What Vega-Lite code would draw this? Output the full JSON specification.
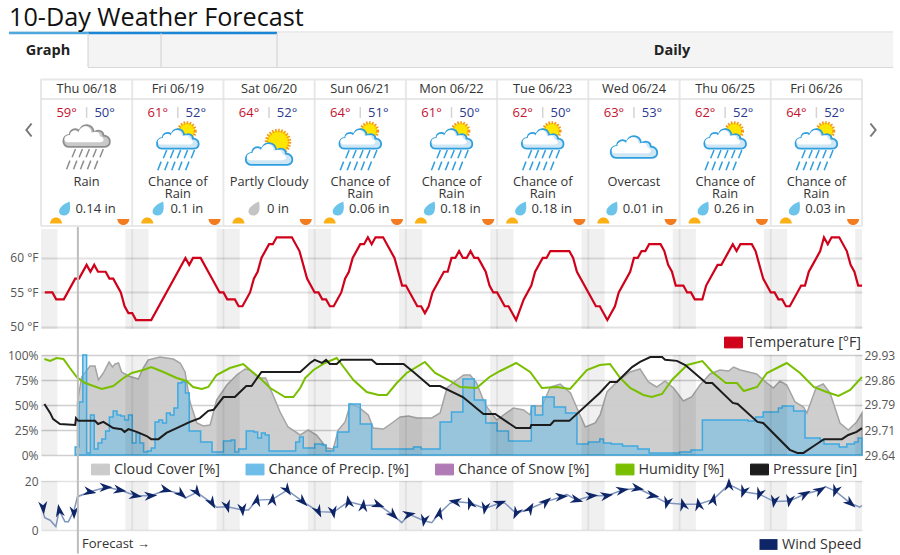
{
"$schema":"https://vega.github.io/schema/vega-lite/v6.json",
"background":"white",
"padding":{"left":7,"top":0,"right":0,"bottom":0},
"bounds":"flush",
"spacing":26,
"resolve":{"scale":{"color":"independent"}},
"config":{"view":{"stroke":null},"font":"Open Sans","axisX":{"disable":true},"axisY":{"domain":false,"ticks":false,"title":null,"labelColor":"#555","labelFontSize":12,"labelPadding":3,"gridColor":"#e2e2e2","gridWidth":2},"legend":{"title":null,"labelFontSize":14.3,"labelColor":"#333","labelOffset":4,"symbolType":"M-1,-0.6H1V0.6H-1Z","symbolSize":324,"symbolStrokeWidth":1,"symbolOpacity":1}},
"datasets":{
"days":[
{"h":12,"dow":"Thu 06/18","hi":"59°","lo":"50°","cond":"Rain","cond2":"","precip":"0.14 in","icon":"rain"},
{"h":36,"dow":"Fri 06/19","hi":"61°","lo":"52°","cond":"Chance of","cond2":"Rain","precip":"0.1 in","icon":"chance"},
{"h":60,"dow":"Sat 06/20","hi":"64°","lo":"52°","cond":"Partly Cloudy","cond2":"","precip":"0 in","icon":"partly"},
{"h":84,"dow":"Sun 06/21","hi":"64°","lo":"51°","cond":"Chance of","cond2":"Rain","precip":"0.06 in","icon":"chance"},
{"h":108,"dow":"Mon 06/22","hi":"61°","lo":"50°","cond":"Chance of","cond2":"Rain","precip":"0.18 in","icon":"chance"},
{"h":132,"dow":"Tue 06/23","hi":"62°","lo":"50°","cond":"Chance of","cond2":"Rain","precip":"0.18 in","icon":"chance"},
{"h":156,"dow":"Wed 06/24","hi":"63°","lo":"53°","cond":"Overcast","cond2":"","precip":"0.01 in","icon":"overcast"},
{"h":180,"dow":"Thu 06/25","hi":"62°","lo":"52°","cond":"Chance of","cond2":"Rain","precip":"0.26 in","icon":"chance"},
{"h":204,"dow":"Fri 06/26","hi":"64°","lo":"52°","cond":"Chance of","cond2":"Rain","precip":"0.03 in","icon":"chance"}],
"night":[{"s":0,"e":4.3},{"s":22.2,"e":28.3},{"s":46.2,"e":52.3},{"s":70.2,"e":76.3},{"s":94.2,"e":100.3},{"s":118.2,"e":124.3},{"s":142.2,"e":148.3},{"s":166.2,"e":172.3},{"s":190.2,"e":196.3},{"s":214.2,"e":216}],
"midnight":[{"h":24},{"h":48},{"h":72},{"h":96},{"h":120},{"h":144},{"h":168},{"h":192}],
"temp":[[1,55],[3,55],[4,54],[6,54],[9,57],[10,57],[12,59],[13,58],[14,59],[15,58],[17,58],[18,57],[19,57],[21,55],[22,53],[23,52],[24,52],[25,51],[29,51],[38,60],[39,59],[40,60],[42,60],[47,55],[48,55],[49,54],[51,54],[52,53],[53,53],[55,55],[56,57],[57,58],[58,60],[60,62],[61,62],[62,63],[66,63],[68,61],[70,57],[72,55],[73,55],[74,54],[75,54],[76,53],[77,53],[79,55],[80,57],[81,58],[82,60],[84,62],[85,62],[86,63],[87,62],[88,63],[90,63],[93,60],[95,56],[96,56],[99,53],[100,53],[101,52],[102,53],[103,55],[106,58],[107,58],[108,60],[109,60],[110,61],[111,60],[112,60],[113,61],[114,60],[115,60],[117,58],[118,56],[119,55],[120,55],[122,53],[123,53],[125,51],[127,54],[129,56],[130,58],[132,60],[133,60],[134,61],[139,61],[140,60],[141,58],[146,53],[147,53],[149,51],[151,53],[152,55],[155,58],[156,60],[157,60],[158,61],[159,61],[160,62],[163,62],[164,61],[165,59],[166,58],[167,56],[169,56],[170,55],[171,55],[172,54],[174,54],[175,56],[178,59],[179,59],[182,62],[183,61],[184,62],[187,62],[188,61],[190,57],[192,55],[193,55],[194,54],[195,54],[196,53],[197,53],[200,56],[201,56],[202,58],[203,59],[205,61],[206,63],[207,62],[208,63],[210,63],[212,61],[213,59],[214,58],[215,56],[216,56]]
},
"vconcat":[
{"width":821,"height":203,
 "encoding":{"x":{"field":"h","type":"quantitative","scale":{"domain":[0,216],"nice":false,"zero":false}}},
 "layer":[
 {"data":{"values":[{"a":12.37,"b":224.2}]},"mark":{"type":"rect","fill":"#f4f4f4"},"encoding":{"x":{"field":"a","type":"quantitative"},"x2":{"field":"b"},"y":{"datum":33,"type":"quantitative","scale":{"domain":[203,0],"nice":false,"zero":false},"axis":null},"y2":{"datum":67}}},
 {"data":{"values":[{"a":-8.42,"b":224.2}]},"mark":{"type":"rule","stroke":"#d8d8d8","strokeWidth":1},"encoding":{"x":{"field":"a","type":"quantitative"},"x2":{"field":"b"},"y":{"datum":32}}},
 {"data":{"values":[{"a":12.37,"b":224.2}]},"mark":{"type":"rule","stroke":"#d8d8d8","strokeWidth":1},"encoding":{"x":{"field":"a","type":"quantitative"},"x2":{"field":"b"},"y":{"datum":67.5}}},
 {"data":{"values":[{"a":-8.42,"b":12.4}]},"mark":{"type":"rule","stroke":"#4ea7dd","strokeWidth":2.5},"encoding":{"x":{"field":"a","type":"quantitative"},"x2":{"field":"b"},"y":{"datum":33}}},
 {"data":{"values":[{"a":12.4,"b":62.1}]},"mark":{"type":"rule","stroke":"#1a86d6","strokeWidth":2.5},"encoding":{"x":{"field":"a","type":"quantitative"},"x2":{"field":"b"},"y":{"datum":33}}},
 {"data":{"values":[{"h":12.37},{"h":31.58},{"h":62.1}]},"mark":{"type":"rule","stroke":"#cfcfcf","strokeWidth":1},"encoding":{"y":{"datum":33},"y2":{"datum":67}}},
 {"data":{"values":[{"h":-8.42,"t":"10-Day Weather Forecast"}]},"mark":{"type":"text","align":"left","baseline":"alphabetic","fontSize":25.2,"color":"#111"},"encoding":{"y":{"datum":26},"text":{"field":"t"}}},
 {"data":{"values":[{"h":1.84,"t":"Graph"},{"h":166,"t":"Daily"}]},"mark":{"type":"text","fontSize":14.5,"fontWeight":"bold","color":"#222","baseline":"middle"},"encoding":{"y":{"datum":50.5},"text":{"field":"t"}}},
 {"data":{"values":[{"h":0},{"h":24},{"h":48},{"h":72},{"h":96},{"h":120},{"h":144},{"h":168},{"h":192},{"h":216}]},"mark":{"type":"rule","stroke":"#e8e8e8","strokeWidth":2},"encoding":{"y":{"datum":79},"y2":{"datum":226}}},
 {"data":{"values":[{"a":0,"b":216}]},"mark":{"type":"rule","stroke":"#e8e8e8","strokeWidth":2},"encoding":{"x":{"field":"a","type":"quantitative"},"x2":{"field":"b"},"y":{"datum":79.5}}},
 {"data":{"values":[{"a":0,"b":216}]},"mark":{"type":"rule","stroke":"#e0e0e0","strokeWidth":1.5},"encoding":{"x":{"field":"a","type":"quantitative"},"x2":{"field":"b"},"y":{"datum":99}}},
 {"data":{"values":[{"a":0,"b":216}]},"mark":{"type":"rule","stroke":"#e8e8e8","strokeWidth":2},"encoding":{"x":{"field":"a","type":"quantitative"},"x2":{"field":"b"},"y":{"datum":226}}},
 {"data":{"values":[{"h":-3.16}]},"mark":{"type":"point","shape":"M0.4,-1L-0.4,0L0.4,1","filled":false,"stroke":"#777","strokeWidth":2,"size":169,"opacity":1},"encoding":{"y":{"datum":130}}},
 {"data":{"values":[{"h":218.9}]},"mark":{"type":"point","shape":"M-0.4,-1L0.4,0L-0.4,1","filled":false,"stroke":"#777","strokeWidth":2,"size":169,"opacity":1},"encoding":{"y":{"datum":130}}},
 {"data":{"name":"days"},"mark":{"type":"text","fontSize":12.8,"color":"#333","baseline":"middle"},"encoding":{"y":{"datum":88.5},"text":{"field":"dow"}}},
 {"data":{"name":"days"},"mark":{"type":"text","fontSize":13,"color":"#c4122f","baseline":"middle","dx":-20},"encoding":{"y":{"datum":113},"text":{"field":"hi"}}},
 {"data":{"name":"days"},"mark":{"type":"text","fontSize":13,"color":"#2b3990","baseline":"middle","dx":18},"encoding":{"y":{"datum":113},"text":{"field":"lo"}}},
 {"data":{"name":"days"},"mark":{"type":"rule","stroke":"#d4d4d4","strokeWidth":1.5},"encoding":{"y":{"datum":107},"y2":{"datum":118}}},
 {"data":{"name":"days"},"transform":[{"filter":"datum.icon=='partly'"}],"mark":{"type":"point","shape":"circle","filled":true,"fill":"#ffe600","stroke":"#f7941d","strokeWidth":3.5,"strokeDash":[1.5,1.5],"size":530,"opacity":1,"xOffset":9},"encoding":{"y":{"datum":142}}},
 {"data":{"name":"days"},"transform":[{"filter":"datum.icon=='chance'"}],"mark":{"type":"point","shape":"circle","filled":true,"fill":"#ffe600","stroke":"#f7941d","strokeWidth":3,"strokeDash":[1.5,1.5],"size":280,"opacity":1,"xOffset":9},"encoding":{"y":{"datum":131}}},
 {"data":{"name":"days"},"transform":[{"filter":"datum.icon=='chance'"}],"mark":{"type":"point","shape":"M-0.75,0.45C-1.05,0.45 -1.05,-0.05 -0.7,-0.05C-0.7,-0.3 -0.4,-0.35 -0.3,-0.2C-0.2,-0.55 0.25,-0.55 0.3,-0.15C0.5,-0.3 0.7,-0.2 0.7,-0.02C1.05,0 1.05,0.45 0.75,0.45Z","filled":true,"fill":"#cfe6f5","stroke":"#2f9fdf","strokeWidth":1.8,"size":1849,"opacity":1},"encoding":{"y":{"datum":139}}},
 {"data":{"name":"days"},"transform":[{"filter":"datum.icon=='partly'||datum.icon=='overcast'"},{"calculate":"datum.icon=='partly'?154:147","as":"cy"}],"mark":{"type":"point","shape":"M-0.75,0.45C-1.05,0.45 -1.05,-0.05 -0.7,-0.05C-0.7,-0.3 -0.4,-0.35 -0.3,-0.2C-0.2,-0.55 0.25,-0.55 0.3,-0.15C0.5,-0.3 0.7,-0.2 0.7,-0.02C1.05,0 1.05,0.45 0.75,0.45Z","filled":true,"fill":"#cfe6f5","stroke":"#2f9fdf","strokeWidth":1.8,"size":2304,"opacity":1},"encoding":{"y":{"field":"cy","type":"quantitative"}}},
 {"data":{"name":"days"},"transform":[{"filter":"datum.icon=='rain'"}],"mark":{"type":"point","shape":"M-0.75,0.45C-1.05,0.45 -1.05,-0.05 -0.7,-0.05C-0.7,-0.3 -0.4,-0.35 -0.3,-0.2C-0.2,-0.55 0.25,-0.55 0.3,-0.15C0.5,-0.3 0.7,-0.2 0.7,-0.02C1.05,0 1.05,0.45 0.75,0.45Z","filled":true,"fill":"#c9c9c9","stroke":"#8e8e8e","strokeWidth":1.8,"size":2304,"opacity":1},"encoding":{"y":{"datum":136}}},
 {"data":{"name":"days"},"transform":[{"filter":"datum.icon=='rain'"}],"mark":{"type":"point","shape":"M-0.72,0.3C-0.95,0.3 -0.95,0 -0.65,0C-0.65,-0.2 -0.38,-0.25 -0.3,-0.1C-0.2,-0.45 0.2,-0.45 0.25,-0.08C0.42,-0.2 0.6,-0.1 0.6,0.05C0.8,0.1 0.8,0.3 0.6,0.3Z","filled":true,"fill":"white","size":2304,"opacity":1,"strokeWidth":0,"xOffset":-1,"yOffset":-1},"encoding":{"y":{"datum":136}}},
 {"data":{"name":"days"},"transform":[{"filter":"datum.icon=='chance'"}],"mark":{"type":"point","shape":"M-0.72,0.3C-0.95,0.3 -0.95,0 -0.65,0C-0.65,-0.2 -0.38,-0.25 -0.3,-0.1C-0.2,-0.45 0.2,-0.45 0.25,-0.08C0.42,-0.2 0.6,-0.1 0.6,0.05C0.8,0.1 0.8,0.3 0.6,0.3Z","filled":true,"fill":"white","size":1849,"opacity":1,"strokeWidth":0,"xOffset":-1,"yOffset":-1},"encoding":{"y":{"datum":139}}},
 {"data":{"name":"days"},"transform":[{"filter":"datum.icon=='partly'||datum.icon=='overcast'"},{"calculate":"datum.icon=='partly'?154:147","as":"cy"}],"mark":{"type":"point","shape":"M-0.72,0.3C-0.95,0.3 -0.95,0 -0.65,0C-0.65,-0.2 -0.38,-0.25 -0.3,-0.1C-0.2,-0.45 0.2,-0.45 0.25,-0.08C0.42,-0.2 0.6,-0.1 0.6,0.05C0.8,0.1 0.8,0.3 0.6,0.3Z","filled":true,"fill":"white","size":2304,"opacity":1,"strokeWidth":0,"xOffset":-1,"yOffset":-1},"encoding":{"y":{"field":"cy","type":"quantitative"}}},
 {"data":{"name":"days"},"transform":[{"filter":"datum.icon=='chance'"}],"mark":{"type":"point","shape":"M-0.4,-0.38L-0.52,-0.08M-0.15,-0.38L-0.27,-0.08M0.1,-0.38L-0.02,-0.08M0.35,-0.38L0.23,-0.08M0.6,-0.38L0.48,-0.08M-0.6,0.04L-0.72,0.35M-0.35,0.04L-0.47,0.35M-0.1,0.04L-0.22,0.35M0.15,0.04L0.03,0.35M0.4,0.04L0.28,0.35","filled":false,"stroke":"#2f9fdf","strokeWidth":1.5,"size":3100,"opacity":1},"encoding":{"y":{"datum":160.5}}},
 {"data":{"name":"days"},"transform":[{"filter":"datum.icon=='rain'"}],"mark":{"type":"point","shape":"M-0.4,-0.38L-0.52,-0.08M-0.15,-0.38L-0.27,-0.08M0.1,-0.38L-0.02,-0.08M0.35,-0.38L0.23,-0.08M0.6,-0.38L0.48,-0.08M-0.6,0.04L-0.72,0.35M-0.35,0.04L-0.47,0.35M-0.1,0.04L-0.22,0.35M0.15,0.04L0.03,0.35M0.4,0.04L0.28,0.35","filled":false,"stroke":"#8e8e8e","strokeWidth":1.5,"size":3100,"opacity":1},"encoding":{"y":{"datum":159.5}}},
 {"data":{"name":"days"},"mark":{"type":"text","fontSize":12.8,"color":"#333","baseline":"alphabetic"},"encoding":{"y":{"datum":185.5},"text":{"field":"cond"}}},
 {"data":{"name":"days"},"mark":{"type":"text","fontSize":12.8,"color":"#333","baseline":"alphabetic"},"encoding":{"y":{"datum":198},"text":{"field":"cond2"}}},
 {"data":{"name":"days"},"transform":[{"calculate":"datum.h-1.5-0.61*length(datum.precip)","as":"dh"},{"filter":"datum.precip!='0 in'"}],"mark":{"type":"point","shape":"M0.7,-1C0.9,0 0.8,1 -0.1,1C-0.8,1 -1,0.4 -0.6,-0.1C-0.3,-0.5 0.2,-0.8 0.7,-1Z","filled":true,"fill":"#6cc4ea","size":196,"opacity":1,"strokeWidth":0},"encoding":{"x":{"field":"dh","type":"quantitative"},"y":{"datum":208.5}}},
 {"data":{"name":"days"},"transform":[{"calculate":"datum.h-1.5-0.61*length(datum.precip)","as":"dh"},{"filter":"datum.precip=='0 in'"}],"mark":{"type":"point","shape":"M0.7,-1C0.9,0 0.8,1 -0.1,1C-0.8,1 -1,0.4 -0.6,-0.1C-0.3,-0.5 0.2,-0.8 0.7,-1Z","filled":true,"fill":"#c4c4c4","size":196,"opacity":1,"strokeWidth":0},"encoding":{"x":{"field":"dh","type":"quantitative"},"y":{"datum":208.5}}},
 {"data":{"name":"days"},"mark":{"type":"text","fontSize":13,"color":"#333","baseline":"middle","dx":9},"encoding":{"y":{"datum":208.5},"text":{"field":"precip"}}},
 {"data":{"name":"days"},"mark":{"type":"point","shape":"M-1,0A1,1 0 0 1 1,0Z","filled":true,"fill":"#fbb116","size":144,"opacity":1,"strokeWidth":0,"xOffset":-30.6},"encoding":{"y":{"datum":223.5}}},
 {"data":{"name":"days"},"mark":{"type":"point","shape":"M-1,0A1,1 0 0 0 1,0Z","filled":true,"fill":"#f47c20","size":144,"opacity":1,"strokeWidth":0,"xOffset":36.7},"encoding":{"y":{"datum":219}}}
 ]},
{"width":821,"height":100,
 "data":{"name":"temp"},
 "transform":[{"calculate":"datum[0]","as":"h"},{"calculate":"datum[1]","as":"t"}],
 "encoding":{"x":{"field":"h","type":"quantitative","scale":{"domain":[0,216],"nice":false,"zero":false}}},
 "layer":[
 {"data":{"name":"night"},"transform":[],"mark":{"type":"rect","fill":"#000","fillOpacity":0.06},"encoding":{"x":{"field":"s","type":"quantitative"},"x2":{"field":"e"}}},
 {"data":{"name":"midnight"},"transform":[],"mark":{"type":"rule","stroke":"#000","strokeOpacity":0.06,"strokeWidth":2},"encoding":{}},
 {"mark":{"type":"line","strokeWidth":2.2,"interpolate":"linear"},"encoding":{"y":{"field":"t","type":"quantitative","scale":{"domain":[49.7,64.2],"nice":false,"zero":false},"axis":{"values":[50,55,60],"grid":true,"labelExpr":"datum.value+' °F'"}},"color":{"datum":"Temperature [°F]","type":"nominal","scale":{"domain":["Temperature [°F]"],"range":["#d0021b"]},"legend":{"orient":"none","legendX":683,"legendY":104,"symbolFillColor":"#d0021b"}}}},
 {"data":{"values":[{"h":9.7}]},"transform":[],"mark":{"type":"rule","stroke":"#bdbdbd","strokeWidth":2},"encoding":{"y":{"datum":64.5},"y2":{"datum":45.9}}}
 ]},
{"width":821,"height":100,
 "encoding":{"x":{"field":"h","type":"quantitative","scale":{"domain":[0,216],"nice":false,"zero":false}}},
 "resolve":{"scale":{"y":"independent"}},
 "layer":[
  {"data":{"values":[{"h":9.6,"v":53},{"h":10.7,"v":78},{"h":12.9,"v":89},{"h":14.2,"v":89},{"h":15.1,"v":75},{"h":16.4,"v":82},{"h":17.9,"v":93},{"h":18.8,"v":88},{"h":19.5,"v":91},{"h":20.4,"v":92},{"h":21.2,"v":83},{"h":23,"v":79},{"h":25.6,"v":76},{"h":26.9,"v":87},{"h":28.2,"v":95},{"h":31.3,"v":98},{"h":34.8,"v":96},{"h":36.6,"v":92},{"h":37.9,"v":83},{"h":39.2,"v":53},{"h":41,"v":32},{"h":42.7,"v":29},{"h":44.5,"v":30},{"h":46.2,"v":55},{"h":48.9,"v":70},{"h":51.5,"v":80},{"h":53.7,"v":86},{"h":55,"v":85},{"h":57.2,"v":77},{"h":59.1,"v":77},{"h":60.7,"v":63},{"h":62.9,"v":43},{"h":65,"v":28},{"h":68.2,"v":20},{"h":70.3,"v":25},{"h":72.5,"v":20},{"h":75.2,"v":7},{"h":76.9,"v":6},{"h":78.2,"v":25},{"h":80,"v":33},{"h":81.4,"v":51},{"h":83.5,"v":48},{"h":86.1,"v":40},{"h":87.4,"v":27},{"h":90.1,"v":26},{"h":92.7,"v":33},{"h":94.5,"v":38},{"h":96.7,"v":39},{"h":98.9,"v":37},{"h":102.8,"v":37},{"h":105,"v":42},{"h":106.8,"v":67},{"h":109.4,"v":75},{"h":111.2,"v":80},{"h":112.9,"v":80},{"h":114.6,"v":72},{"h":116.9,"v":50},{"h":119.9,"v":35},{"h":121.7,"v":40},{"h":124.3,"v":47},{"h":127,"v":45},{"h":128.7,"v":40},{"h":129.1,"v":49},{"h":131.8,"v":49},{"h":134,"v":68},{"h":136.6,"v":71},{"h":139.3,"v":62},{"h":141,"v":47},{"h":143.2,"v":28},{"h":145.8,"v":32},{"h":147.1,"v":40},{"h":148.9,"v":63},{"h":151.5,"v":73},{"h":155,"v":83},{"h":157.6,"v":86},{"h":159.8,"v":73},{"h":162,"v":68},{"h":164.2,"v":74},{"h":166.4,"v":67},{"h":169,"v":54},{"h":171.2,"v":58},{"h":173.4,"v":70},{"h":176,"v":81},{"h":178.6,"v":85},{"h":180.9,"v":84},{"h":182.2,"v":88},{"h":184,"v":85},{"h":188.3,"v":81},{"h":190,"v":75},{"h":192.7,"v":67},{"h":194.4,"v":74},{"h":196.2,"v":70},{"h":198.4,"v":53},{"h":200.6,"v":48},{"h":201.5,"v":42},{"h":204,"v":68},{"h":205.8,"v":71},{"h":207.6,"v":62},{"h":210.2,"v":32},{"h":212.4,"v":25},{"h":214.6,"v":33},{"h":216,"v":42}]},
   "mark":{"type":"area","stroke":"#a4a4a4","strokeWidth":1.5,"fillOpacity":0.95,"opacity":1},
   "encoding":{"y":{"field":"v","type":"quantitative","scale":{"domain":[0,100],"nice":false},"axis":{"values":[0,25,50,75,100],"grid":true,"gridWidth":1.5,"gridColor":"#cfcfcf","labelExpr":"datum.value+'%'"}},
   "color":{"datum":"Cloud Cover [%]","type":"nominal","scale":{"domain":["Cloud Cover [%]","Chance of Precip. [%]","Chance of Snow [%]","Humidity [%]","Pressure [in]"],"range":["#cbcbcb","#6cbde8","#b07ab5","#79bf00","#1c1c1c"]},"legend":{"orient":"none","legendX":50,"legendY":105,"direction":"horizontal","columns":5,"gridAlign":"none","columnPadding":23.5}}}},
  {"data":{"values":[{"h":9,"v":8},{"h":10,"v":53},{"h":11,"v":100},{"h":12,"v":2},{"h":13,"v":40},{"h":14,"v":6},{"h":15,"v":12},{"h":16,"v":16},{"h":17,"v":24},{"h":18,"v":38},{"h":19,"v":44},{"h":20,"v":40},{"h":21,"v":39},{"h":22,"v":35},{"h":23,"v":40},{"h":24,"v":12},{"h":25,"v":22},{"h":26,"v":12},{"h":27,"v":3},{"h":28,"v":4},{"h":29,"v":7},{"h":30,"v":33},{"h":31,"v":35},{"h":32,"v":32},{"h":33,"v":42},{"h":34,"v":40},{"h":35,"v":47},{"h":36,"v":72},{"h":37,"v":73},{"h":38,"v":62},{"h":39,"v":24},{"h":42,"v":13},{"h":45,"v":3},{"h":48,"v":14},{"h":50,"v":15},{"h":51,"v":3},{"h":52,"v":6},{"h":54,"v":24},{"h":56,"v":23},{"h":57,"v":17},{"h":58,"v":22},{"h":59,"v":20},{"h":60,"v":4},{"h":65,"v":4},{"h":67,"v":13},{"h":68,"v":18},{"h":69,"v":7},{"h":72,"v":11},{"h":74,"v":10},{"h":75,"v":4},{"h":77,"v":8},{"h":78,"v":23},{"h":81,"v":51},{"h":84,"v":31},{"h":87,"v":6},{"h":98,"v":8},{"h":100,"v":6},{"h":105,"v":33},{"h":108,"v":43},{"h":111,"v":76},{"h":114,"v":55},{"h":117,"v":32},{"h":120,"v":24},{"h":123,"v":14},{"h":129,"v":49},{"h":130,"v":40},{"h":132,"v":58},{"h":135,"v":48},{"h":138,"v":42},{"h":141,"v":11},{"h":144,"v":13},{"h":147,"v":16},{"h":148,"v":12},{"h":150,"v":11},{"h":153,"v":9},{"h":157,"v":6},{"h":160,"v":2},{"h":168,"v":3},{"h":171,"v":5},{"h":174,"v":35},{"h":186,"v":34},{"h":188,"v":38},{"h":190,"v":43},{"h":194,"v":47},{"h":195,"v":49},{"h":198,"v":44},{"h":201,"v":17},{"h":205,"v":15},{"h":206,"v":11},{"h":210,"v":8},{"h":212,"v":11},{"h":214,"v":13},{"h":215,"v":17},{"h":216,"v":17}]},
   "mark":{"type":"area","interpolate":"step-after","stroke":"#3fa9e0","strokeWidth":1.5,"fillOpacity":0.55,"opacity":1},
   "encoding":{"y":{"field":"v","type":"quantitative","scale":{"domain":[0,100],"nice":false},"axis":null},"color":{"datum":"Chance of Precip. [%]","type":"nominal","legend":null}}},
  {"data":{"name":"night"},"mark":{"type":"rect","fill":"#000","fillOpacity":0.06},"encoding":{"x":{"field":"s","type":"quantitative"},"x2":{"field":"e"}}},
  {"data":{"name":"midnight"},"mark":{"type":"rule","stroke":"#000","strokeOpacity":0.06,"strokeWidth":2},"encoding":{}},
  {"data":{"values":[{"h":0.9,"v":96},{"h":2.4,"v":94},{"h":4.1,"v":97},{"h":5.9,"v":96},{"h":7.6,"v":87},{"h":9.4,"v":78},{"h":11.6,"v":72},{"h":13.8,"v":69},{"h":16,"v":66},{"h":19,"v":69},{"h":21.7,"v":77},{"h":23.9,"v":82},{"h":26.9,"v":85},{"h":29,"v":88},{"h":32.2,"v":83},{"h":35.7,"v":77},{"h":38.3,"v":74},{"h":40,"v":68},{"h":42.3,"v":66},{"h":44,"v":68},{"h":46.2,"v":80},{"h":49.7,"v":87},{"h":53.2,"v":91},{"h":55,"v":85},{"h":57.6,"v":77},{"h":60.3,"v":67},{"h":64.2,"v":58},{"h":66.4,"v":58},{"h":68.2,"v":67},{"h":69.5,"v":77},{"h":71.7,"v":85},{"h":74.7,"v":92},{"h":77.8,"v":97},{"h":79.6,"v":88},{"h":82.2,"v":75},{"h":85.7,"v":63},{"h":88.8,"v":60},{"h":91,"v":60},{"h":93.6,"v":72},{"h":96.2,"v":82},{"h":101,"v":93},{"h":103.7,"v":82},{"h":107.2,"v":75},{"h":110.3,"v":68},{"h":114.6,"v":67},{"h":118,"v":78},{"h":120.8,"v":84},{"h":125,"v":92},{"h":128.7,"v":83},{"h":131.8,"v":67},{"h":135.7,"v":68},{"h":139.2,"v":66},{"h":143.6,"v":85},{"h":147,"v":90},{"h":149.7,"v":91},{"h":152.4,"v":77},{"h":155,"v":67},{"h":158.5,"v":60},{"h":160.7,"v":58},{"h":163.4,"v":61},{"h":166,"v":75},{"h":170,"v":90},{"h":174,"v":94},{"h":176.6,"v":83},{"h":180.2,"v":72},{"h":183.1,"v":72},{"h":184.9,"v":64},{"h":188.4,"v":68},{"h":191,"v":82},{"h":193.6,"v":87},{"h":196.2,"v":92},{"h":199.7,"v":82},{"h":203.3,"v":68},{"h":206.7,"v":63},{"h":209.8,"v":59},{"h":212.9,"v":65},{"h":216,"v":78}]},
   "mark":{"type":"line","strokeWidth":2,"opacity":1},
   "encoding":{"y":{"field":"v","type":"quantitative","scale":{"domain":[0,100],"nice":false},"axis":null},"color":{"datum":"Humidity [%]","type":"nominal","legend":null}}},
  {"data":{"values":[{"h":9.7}]},"mark":{"type":"rule","stroke":"#bdbdbd","strokeWidth":2},"encoding":{"y":{"datum":100,"type":"quantitative","scale":{"domain":[0,100],"nice":false},"axis":null},"y2":{"datum":-26}}},
 {"data":{"values":[{"h":0.9,"p":29.788},{"h":2.4,"p":29.762},{"h":3.2,"p":29.744},{"h":5,"p":29.73},{"h":9,"p":29.727},{"h":9.2,"p":29.747},{"h":9.8,"p":29.739},{"h":14.2,"p":29.739},{"h":15,"p":29.73},{"h":16.4,"p":29.736},{"h":19,"p":29.718},{"h":21.2,"p":29.715},{"h":22,"p":29.707},{"h":23,"p":29.715},{"h":25.2,"p":29.707},{"h":27.8,"p":29.695},{"h":29,"p":29.686},{"h":30.9,"p":29.686},{"h":33,"p":29.704},{"h":35.7,"p":29.718},{"h":39.2,"p":29.736},{"h":41.8,"p":29.747},{"h":44,"p":29.768},{"h":45.4,"p":29.771},{"h":48,"p":29.808},{"h":51,"p":29.808},{"h":54,"p":29.84},{"h":55.4,"p":29.84},{"h":58,"p":29.881},{"h":68.2,"p":29.881},{"h":70.8,"p":29.907},{"h":72,"p":29.916},{"h":73.9,"p":29.907},{"h":75,"p":29.916},{"h":76,"p":29.904},{"h":77.8,"p":29.904},{"h":79,"p":29.916},{"h":87,"p":29.916},{"h":88.3,"p":29.904},{"h":95.4,"p":29.904},{"h":98,"p":29.881},{"h":102.3,"p":29.84},{"h":105,"p":29.84},{"h":111,"p":29.808},{"h":116.4,"p":29.759},{"h":119.5,"p":29.759},{"h":125,"p":29.718},{"h":128.7,"p":29.718},{"h":129,"p":29.727},{"h":134,"p":29.727},{"h":135,"p":29.739},{"h":139,"p":29.739},{"h":147,"p":29.82},{"h":149.7,"p":29.852},{"h":151.5,"p":29.852},{"h":155.5,"p":29.895},{"h":157.6,"p":29.91},{"h":160.3,"p":29.924},{"h":163.4,"p":29.924},{"h":164.2,"p":29.916},{"h":167.3,"p":29.913},{"h":169.5,"p":29.901},{"h":175,"p":29.849},{"h":176.6,"p":29.849},{"h":182,"p":29.791},{"h":183.3,"p":29.788},{"h":188.5,"p":29.736},{"h":190,"p":29.733},{"h":197,"p":29.655},{"h":199,"p":29.646},{"h":200.6,"p":29.646},{"h":203.3,"p":29.666},{"h":206,"p":29.686},{"h":210.7,"p":29.686},{"h":212.4,"p":29.698},{"h":214.6,"p":29.707},{"h":216,"p":29.718}]},
  "mark":{"type":"line","strokeWidth":2,"opacity":1},
  "encoding":{"y":{"field":"p","type":"quantitative","scale":{"domain":[29.64,29.93],"nice":false,"zero":false},"axis":{"orient":"right","values":[29.64,29.7125,29.786,29.8575,29.93],"format":".2f","grid":false,"labelPadding":2}},"color":{"datum":"Pressure [in]","type":"nominal","legend":null}}}
 ]},
{"width":821,"height":49,
 "encoding":{"x":{"field":"h","type":"quantitative","scale":{"domain":[0,216],"nice":false,"zero":false}}},
 "layer":[
 {"data":{"name":"night"},"mark":{"type":"rect","fill":"#000","fillOpacity":0.06},"encoding":{"x":{"field":"s","type":"quantitative"},"x2":{"field":"e"}}},
 {"data":{"name":"midnight"},"mark":{"type":"rule","stroke":"#000","strokeOpacity":0.06,"strokeWidth":2},"encoding":{}},
 {"data":{"values":[{"h":0,"w":10},{"h":1,"w":5},{"h":2.4,"w":4},{"h":3.9,"w":1.4},{"h":4.8,"w":8},{"h":6.3,"w":3.4},{"h":7.2,"w":3.4},{"h":8.7,"w":8},{"h":9.6,"w":13.6},{"h":12.9,"w":15.6},{"h":17.1,"w":17.4},{"h":20.8,"w":16.3},{"h":24.9,"w":14},{"h":28.9,"w":14},{"h":32.9,"w":16.3},{"h":37,"w":14.6},{"h":37.9,"w":13},{"h":41,"w":15.4},{"h":45,"w":11},{"h":46.2,"w":9.3},{"h":49,"w":9.5},{"h":53,"w":8.2},{"h":54.6,"w":8.2},{"h":56.8,"w":12.2},{"h":60.9,"w":12.5},{"h":64.8,"w":16.3},{"h":68.9,"w":11.6},{"h":73,"w":7.5},{"h":76.9,"w":7.2},{"h":80.9,"w":11.6},{"h":84.8,"w":10},{"h":88.8,"w":10.2},{"h":92.7,"w":6.1},{"h":94.9,"w":3},{"h":96.9,"w":6.4},{"h":100.8,"w":3.8},{"h":102.8,"w":3},{"h":104.8,"w":6.8},{"h":107.6,"w":10.9},{"h":108.9,"w":11.6},{"h":112.9,"w":11},{"h":116.8,"w":8.8},{"h":120.8,"w":11},{"h":122,"w":11},{"h":125,"w":6.8},{"h":128.7,"w":8.8},{"h":132.9,"w":11.6},{"h":137,"w":13.6},{"h":138.3,"w":14.6},{"h":141,"w":12.2},{"h":144.9,"w":14},{"h":148.9,"w":14},{"h":153,"w":16.3},{"h":157,"w":17},{"h":161,"w":14},{"h":164.7,"w":11},{"h":168.9,"w":10.5},{"h":173,"w":10.5},{"h":176.9,"w":12.5},{"h":181,"w":18.6},{"h":184.8,"w":15.6},{"h":189,"w":14.6},{"h":192.9,"w":11.6},{"h":196.9,"w":11.8},{"h":201,"w":14.7},{"h":205,"w":16.3},{"h":206.3,"w":17.7},{"h":209,"w":15.9},{"h":213,"w":10.9},{"h":215.4,"w":9.3},{"h":216,"w":10}]},
  "mark":{"type":"line","stroke":"#7f95bd","strokeWidth":1.5},
  "encoding":{"y":{"field":"w","type":"quantitative","scale":{"domain":[0,20],"nice":false,"zero":false},"axis":{"values":[0,10,20],"grid":true,"gridWidth":1.5}}}},
 {"data":{"values":[{"h":0.6,"w":9,"d":175},{"h":4.8,"w":8,"d":350},{"h":8.7,"w":7,"d":180},{"h":12.9,"w":15.6,"d":100},{"h":17.1,"w":17.4,"d":90},{"h":20.8,"w":16.3,"d":100},{"h":24.9,"w":14,"d":100},{"h":28.9,"w":14,"d":85},{"h":32.9,"w":16.3,"d":105},{"h":37,"w":14.6,"d":130},{"h":41,"w":15.4,"d":145},{"h":45,"w":11,"d":150},{"h":49,"w":9.5,"d":165},{"h":53,"w":8.2,"d":175},{"h":56.8,"w":12.2,"d":10},{"h":60.9,"w":12.5,"d":5},{"h":64.8,"w":16.3,"d":145},{"h":68.9,"w":11.6,"d":135},{"h":73,"w":7.5,"d":155},{"h":76.9,"w":7.2,"d":170},{"h":80.9,"w":11.6,"d":350},{"h":84.8,"w":10,"d":5},{"h":88.8,"w":10.2,"d":110},{"h":92.7,"w":6.1,"d":135},{"h":96.9,"w":6.4,"d":80},{"h":100.8,"w":3.8,"d":190},{"h":104.8,"w":6.8,"d":10},{"h":108.9,"w":11.6,"d":280},{"h":112.9,"w":11,"d":340},{"h":116.8,"w":8.8,"d":190},{"h":120.8,"w":11,"d":70},{"h":125,"w":6.8,"d":205},{"h":128.7,"w":8.8,"d":30},{"h":132.9,"w":11.6,"d":50},{"h":137,"w":13.6,"d":85},{"h":141,"w":12.2,"d":105},{"h":144.9,"w":14,"d":85},{"h":148.9,"w":14,"d":80},{"h":153,"w":16.3,"d":80},{"h":157,"w":17,"d":100},{"h":161,"w":14,"d":100},{"h":164.7,"w":11,"d":195},{"h":168.9,"w":10.5,"d":345},{"h":173,"w":10.5,"d":350},{"h":176.9,"w":12.5,"d":10},{"h":181,"w":18.6,"d":0},{"h":184.8,"w":15.6,"d":200},{"h":189,"w":14.6,"d":200},{"h":192.9,"w":11.6,"d":190},{"h":196.9,"w":11.8,"d":190},{"h":201,"w":14.7,"d":60},{"h":205,"w":16.3,"d":60},{"h":209,"w":15.9,"d":200},{"h":213,"w":10.9,"d":130}]},
  "mark":{"type":"point","shape":"M0,-1L0.7,1L0,0.4L-0.7,1Z","filled":true,"size":169,"opacity":1},
  "encoding":{"y":{"field":"w","type":"quantitative"},"angle":{"field":"d","type":"quantitative","scale":null},"color":{"datum":"Wind Speed","type":"nominal","scale":{"domain":["Wind Speed"],"range":["#0e2567"]},"legend":{"orient":"none","legendX":718,"legendY":54}}}},
 {"data":{"values":[{"h":9.7}]},"mark":{"type":"rule","stroke":"#bdbdbd","strokeWidth":2},"encoding":{"y":{"datum":20},"y2":{"datum":-9.6}}},
 {"data":{"values":[{"h":10.8,"t":"Forecast →"}]},"mark":{"type":"text","align":"left","baseline":"middle","fontSize":13,"color":"#333"},"encoding":{"y":{"datum":-5.8},"text":{"field":"t"}}}
 ]}
]}
